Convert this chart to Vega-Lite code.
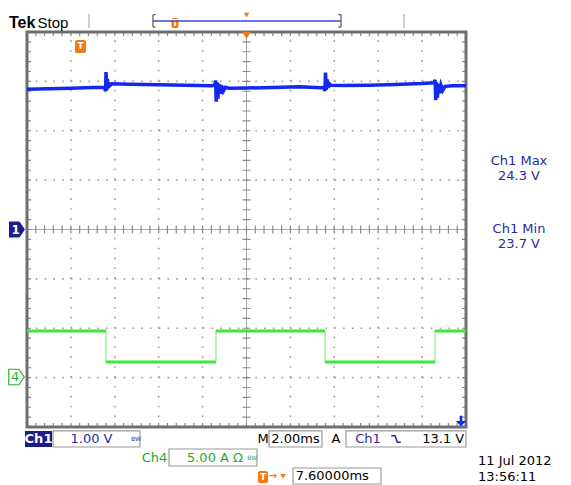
{
  "$schema": "https://vega.github.io/schema/vega-lite/v6.json",
  "width": 439,
  "height": 395,
  "autosize": {"type": "none"},
  "padding": {"left": 27, "top": 32, "right": 105, "bottom": 58},
  "background": "white",
  "config": {"view": {"stroke": null}, "axis": {"disable": true}, "font": "DejaVu Sans"},
  "datasets": {
    "ch1": [
      {"x": 0, "v": 2.84}, {"x": 0.5, "v": 2.85}, {"x": 1.0, "v": 2.86}, {"x": 1.5, "v": 2.875},
      {"x": 1.77, "v": 2.88}, {"x": 1.79, "v": 2.8}, {"x": 1.8, "v": 3.19}, {"x": 1.815, "v": 2.82},
      {"x": 1.83, "v": 3.05}, {"x": 1.85, "v": 2.86}, {"x": 1.87, "v": 2.97}, {"x": 1.89, "v": 2.92},
      {"x": 1.93, "v": 2.95}, {"x": 2.3, "v": 2.94}, {"x": 3.0, "v": 2.93}, {"x": 3.6, "v": 2.92},
      {"x": 4.2, "v": 2.91}, {"x": 4.28, "v": 2.92}, {"x": 4.295, "v": 3.02}, {"x": 4.31, "v": 2.59},
      {"x": 4.33, "v": 2.98}, {"x": 4.35, "v": 2.65}, {"x": 4.37, "v": 2.95}, {"x": 4.4, "v": 2.75},
      {"x": 4.43, "v": 2.92}, {"x": 4.47, "v": 2.8}, {"x": 4.52, "v": 2.88}, {"x": 4.6, "v": 2.86},
      {"x": 5.0, "v": 2.865}, {"x": 5.6, "v": 2.875}, {"x": 6.2, "v": 2.89}, {"x": 6.7, "v": 2.87},
      {"x": 6.77, "v": 2.88}, {"x": 6.785, "v": 2.8}, {"x": 6.8, "v": 3.18}, {"x": 6.815, "v": 2.83},
      {"x": 6.84, "v": 3.04}, {"x": 6.86, "v": 2.87}, {"x": 6.89, "v": 2.95}, {"x": 6.93, "v": 2.92},
      {"x": 7.2, "v": 2.915}, {"x": 7.8, "v": 2.92}, {"x": 8.4, "v": 2.935}, {"x": 9.0, "v": 2.955},
      {"x": 9.26, "v": 2.97}, {"x": 9.28, "v": 2.99}, {"x": 9.295, "v": 3.03}, {"x": 9.31, "v": 2.62},
      {"x": 9.33, "v": 2.98}, {"x": 9.35, "v": 2.67}, {"x": 9.37, "v": 2.95}, {"x": 9.4, "v": 2.76},
      {"x": 9.43, "v": 2.92}, {"x": 9.47, "v": 2.82}, {"x": 9.52, "v": 2.9}, {"x": 9.7, "v": 2.91},
      {"x": 10.0, "v": 2.91}
    ],
    "ch4": [
      {"i": 0, "x": 0, "v": -2.056}, {"i": 1, "x": 1.8, "v": -2.056}, {"i": 2, "x": 1.8, "v": -2.684},
      {"i": 3, "x": 4.305, "v": -2.684}, {"i": 4, "x": 4.305, "v": -2.056}, {"i": 5, "x": 6.79, "v": -2.056},
      {"i": 6, "x": 6.79, "v": -2.684}, {"i": 7, "x": 9.295, "v": -2.684}, {"i": 8, "x": 9.295, "v": -2.056},
      {"i": 9, "x": 10, "v": -2.056}
    ]
  },
  "layer": [
    {
      "data": {"values": [{"x": 1}, {"x": 2}, {"x": 3}, {"x": 4}, {"x": 6}, {"x": 7}, {"x": 8}, {"x": 9}]},
      "mark": {"type": "rule", "color": "#a0a0a0", "strokeWidth": 1.6, "strokeDash": [1.6, 8.275]},
      "encoding": {
        "x": {"field": "x", "type": "quantitative", "scale": {"domain": [0, 10], "nice": false, "zero": false}},
        "y": {"datum": -4, "type": "quantitative", "scale": {"domain": [-4, 4], "nice": false, "zero": false}},
        "y2": {"datum": 4}
      }
    },
    {
      "data": {"values": [{"y": -3}, {"y": -2}, {"y": -1}, {"y": 1}, {"y": 2}, {"y": 3}]},
      "mark": {"type": "rule", "color": "#a0a0a0", "strokeWidth": 1.6, "strokeDash": [1.6, 7.18]},
      "encoding": {
        "x": {"datum": 0, "type": "quantitative", "scale": {"domain": [0, 10], "nice": false, "zero": false}},
        "x2": {"datum": 10},
        "y": {"field": "y", "type": "quantitative", "scale": {"domain": [-4, 4], "nice": false, "zero": false}}
      }
    },
    {
      "data": {"values": [{"x": 0, "x2": 10, "y": 0, "y2": 0}, {"x": 5, "x2": 5, "y": -4, "y2": 4}]},
      "mark": {"type": "rule", "color": "#a8a8a8", "strokeWidth": 1},
      "encoding": {
        "x": {"field": "x", "type": "quantitative", "scale": {"domain": [0, 10], "nice": false, "zero": false}},
        "x2": {"field": "x2"},
        "y": {"field": "y", "type": "quantitative", "scale": {"domain": [-4, 4], "nice": false, "zero": false}},
        "y2": {"field": "y2"}
      }
    },
    {
      "data": {"values": [{"y": 4}, {"y": 0}, {"y": -4}]},
      "mark": {"type": "rule", "color": "#8a8a8a", "strokeWidth": 8, "strokeDash": [1.2, 7.58], "strokeDashOffset": 0.6, "clip": true},
      "encoding": {
        "x": {"datum": 0, "type": "quantitative", "scale": {"domain": [0, 10], "nice": false, "zero": false}},
        "x2": {"datum": 10},
        "y": {"field": "y", "type": "quantitative", "scale": {"domain": [-4, 4], "nice": false, "zero": false}}
      }
    },
    {
      "data": {"values": [{"x": 0}, {"x": 5}, {"x": 10}]},
      "mark": {"type": "rule", "color": "#8a8a8a", "strokeWidth": 8, "strokeDash": [1.2, 8.675], "strokeDashOffset": 0.6, "clip": true},
      "encoding": {
        "x": {"field": "x", "type": "quantitative", "scale": {"domain": [0, 10], "nice": false, "zero": false}},
        "y": {"datum": -4, "type": "quantitative", "scale": {"domain": [-4, 4], "nice": false, "zero": false}},
        "y2": {"datum": 4}
      }
    },
    {
      "data": {"values": [{}]},
      "mark": {"type": "rect", "filled": false, "stroke": "#6e6e6e", "strokeWidth": 3},
      "encoding": {
        "x": {"datum": 0, "type": "quantitative", "scale": {"domain": [0, 10], "nice": false, "zero": false}},
        "x2": {"datum": 10},
        "y": {"datum": -4, "type": "quantitative", "scale": {"domain": [-4, 4], "nice": false, "zero": false}},
        "y2": {"datum": 4}
      }
    },
    {
      "data": {"name": "ch4"},
      "mark": {"type": "line", "color": "#8cec8c", "strokeWidth": 1.2},
      "encoding": {
        "x": {"field": "x", "type": "quantitative", "scale": {"domain": [0, 10], "nice": false, "zero": false}},
        "y": {"field": "v", "type": "quantitative", "scale": {"domain": [-4, 4], "nice": false, "zero": false}},
        "order": {"field": "i", "type": "quantitative"}
      }
    },
    {
      "data": {"name": "ch4"},
      "transform": [
        {"window": [{"op": "lead", "field": "x", "as": "xn"}, {"op": "lead", "field": "v", "as": "vn"}], "sort": [{"field": "i"}]},
        {"filter": "datum.vn == datum.v"}
      ],
      "mark": {"type": "rule", "color": "#3ce63c", "strokeWidth": 3},
      "encoding": {
        "x": {"field": "x", "type": "quantitative", "scale": {"domain": [0, 10], "nice": false, "zero": false}},
        "x2": {"field": "xn"},
        "y": {"field": "v", "type": "quantitative", "scale": {"domain": [-4, 4], "nice": false, "zero": false}}
      }
    },
    {
      "data": {"name": "ch1"},
      "mark": {"type": "line", "color": "#1428f0", "strokeWidth": 3.5},
      "encoding": {
        "x": {"field": "x", "type": "quantitative", "scale": {"domain": [0, 10], "nice": false, "zero": false}},
        "y": {"field": "v", "type": "quantitative", "scale": {"domain": [-4, 4], "nice": false, "zero": false}}
      }
    },
    {
      "data": {"values": [
        {"x": 0.592, "x2": 2.574, "y": -4.08, "y2": -4.405},
        {"x": 5.513, "x2": 6.72, "y": -4.08, "y2": -4.405},
        {"x": 7.267, "x2": 10.0, "y": -4.08, "y2": -4.405},
        {"x": 3.235, "x2": 5.239, "y": -4.446, "y2": -4.79},
        {"x": 6.059, "x2": 8.064, "y": -4.83, "y2": -5.154}
      ]},
      "mark": {"type": "rect", "fill": "white", "stroke": "#9a9a9a", "strokeWidth": 1.2},
      "encoding": {
        "x": {"field": "x", "type": "quantitative", "scale": {"domain": [0, 10], "nice": false, "zero": false}},
        "x2": {"field": "x2"},
        "y": {"field": "y", "type": "quantitative", "scale": {"domain": [-4, 4], "nice": false, "zero": false}},
        "y2": {"field": "y2"}
      }
    },
    {
      "data": {"values": [{"x": -0.046, "x2": 0.569, "y": -4.08, "y2": -4.405}]},
      "mark": {"type": "rect", "fill": "#1c1c8a"},
      "encoding": {
        "x": {"field": "x", "type": "quantitative", "scale": {"domain": [0, 10], "nice": false, "zero": false}},
        "x2": {"field": "x2"},
        "y": {"field": "y", "type": "quantitative", "scale": {"domain": [-4, 4], "nice": false, "zero": false}},
        "y2": {"field": "y2"}
      }
    },
    {
      "data": {"values": [
        {"x": 1.093, "x2": 1.344, "y": 3.838, "y2": 3.575},
        {"x": 3.292, "x2": 3.451, "y": 4.284, "y2": 4.081},
        {"x": 5.262, "x2": 5.49, "y": -4.89, "y2": -5.134}
      ]},
      "mark": {"type": "rect", "fill": "#f07a10", "cornerRadius": 2},
      "encoding": {
        "x": {"field": "x", "type": "quantitative", "scale": {"domain": [0, 10], "nice": false, "zero": false}},
        "x2": {"field": "x2"},
        "y": {"field": "y", "type": "quantitative", "scale": {"domain": [-4, 4], "nice": false, "zero": false}},
        "y2": {"field": "y2"}
      }
    },
    {
      "data": {"values": [{"x": 1.218, "y": 3.707, "t": "T"}, {"x": 3.371, "y": 4.183, "t": "T"}, {"x": 5.376, "y": -5.012, "t": "T"}]},
      "mark": {"type": "text", "color": "white", "fontSize": 9, "fontWeight": "bold", "baseline": "middle", "align": "center"},
      "encoding": {
        "x": {"field": "x", "type": "quantitative", "scale": {"domain": [0, 10], "nice": false, "zero": false}},
        "y": {"field": "y", "type": "quantitative", "scale": {"domain": [-4, 4], "nice": false, "zero": false}},
        "text": {"field": "t"}
      }
    },
    {
      "data": {"values": [{"x": 5, "y": 3.93}]},
      "mark": {"type": "point", "shape": "triangle-down", "filled": true, "color": "#f07a10", "size": 70, "opacity": 1},
      "encoding": {
        "x": {"field": "x", "type": "quantitative", "scale": {"domain": [0, 10], "nice": false, "zero": false}},
        "y": {"field": "y", "type": "quantitative", "scale": {"domain": [-4, 4], "nice": false, "zero": false}}
      }
    },
    {
      "data": {"values": [{"x": 5, "y": 4.344}, {"x": 5.831, "y": -5.0}]},
      "mark": {"type": "point", "shape": "triangle-down", "filled": true, "color": "#f07a10", "size": 30, "opacity": 1},
      "encoding": {
        "x": {"field": "x", "type": "quantitative", "scale": {"domain": [0, 10], "nice": false, "zero": false}},
        "y": {"field": "y", "type": "quantitative", "scale": {"domain": [-4, 4], "nice": false, "zero": false}}
      }
    },
    {
      "data": {"values": [{"x": 5.604, "y": -5.0, "t": "→"}]},
      "mark": {"type": "text", "color": "#f07a10", "fontSize": 10, "fontWeight": "bold", "baseline": "middle", "align": "center"},
      "encoding": {
        "x": {"field": "x", "type": "quantitative", "scale": {"domain": [0, 10], "nice": false, "zero": false}},
        "y": {"field": "y", "type": "quantitative", "scale": {"domain": [-4, 4], "nice": false, "zero": false}},
        "text": {"field": "t"}
      }
    },
    {
      "data": {"values": [{"x": 2.87, "x2": 7.153, "y": 4.223, "y2": 4.223}]},
      "mark": {"type": "rule", "color": "#3a4ad0", "strokeWidth": 1.5},
      "encoding": {
        "x": {"field": "x", "type": "quantitative", "scale": {"domain": [0, 10], "nice": false, "zero": false}},
        "x2": {"field": "x2"},
        "y": {"field": "y", "type": "quantitative", "scale": {"domain": [-4, 4], "nice": false, "zero": false}},
        "y2": {"field": "y2"}
      }
    },
    {
      "data": {"values": [
        {"x": 2.87, "x2": 2.87, "y": 4.1, "y2": 4.35},
        {"x": 7.153, "x2": 7.153, "y": 4.1, "y2": 4.35},
        {"x": 2.87, "x2": 2.93, "y": 4.35, "y2": 4.35},
        {"x": 7.093, "x2": 7.153, "y": 4.35, "y2": 4.35},
        {"x": 2.87, "x2": 2.93, "y": 4.1, "y2": 4.1},
        {"x": 7.093, "x2": 7.153, "y": 4.1, "y2": 4.1}
      ]},
      "mark": {"type": "rule", "color": "#555555", "strokeWidth": 1.2},
      "encoding": {
        "x": {"field": "x", "type": "quantitative", "scale": {"domain": [0, 10], "nice": false, "zero": false}},
        "x2": {"field": "x2"},
        "y": {"field": "y", "type": "quantitative", "scale": {"domain": [-4, 4], "nice": false, "zero": false}},
        "y2": {"field": "y2"}
      }
    },
    {
      "data": {"values": [
        {"x": 1.412, "x2": 1.412, "y": 4.081, "y2": 4.365},
        {"x": 8.588, "x2": 8.588, "y": 4.081, "y2": 4.365}
      ]},
      "mark": {"type": "rule", "color": "#b0b0b0", "strokeWidth": 1.2},
      "encoding": {
        "x": {"field": "x", "type": "quantitative", "scale": {"domain": [0, 10], "nice": false, "zero": false}},
        "x2": {"field": "x2"},
        "y": {"field": "y", "type": "quantitative", "scale": {"domain": [-4, 4], "nice": false, "zero": false}},
        "y2": {"field": "y2"}
      }
    },
    {
      "data": {"values": [{"x": -0.228, "y": 0}]},
      "mark": {"type": "point", "shape": "M-1,-1 L0.3,-1 L1,0 L0.3,1 L-1,1 Z", "filled": true, "color": "#1c1c8a", "size": 256, "opacity": 1},
      "encoding": {
        "x": {"field": "x", "type": "quantitative", "scale": {"domain": [0, 10], "nice": false, "zero": false}},
        "y": {"field": "y", "type": "quantitative", "scale": {"domain": [-4, 4], "nice": false, "zero": false}}
      }
    },
    {
      "data": {"values": [{"x": -0.239, "y": -2.987}]},
      "mark": {"type": "point", "shape": "M-1,-1 L0.3,-1 L1,0 L0.3,1 L-1,1 Z", "filled": true, "fill": "white", "stroke": "#2bb52b", "strokeWidth": 1.2, "size": 240, "opacity": 1},
      "encoding": {
        "x": {"field": "x", "type": "quantitative", "scale": {"domain": [0, 10], "nice": false, "zero": false}},
        "y": {"field": "y", "type": "quantitative", "scale": {"domain": [-4, 4], "nice": false, "zero": false}}
      }
    },
    {
      "data": {"values": [{"x": -0.26, "y": 0, "t": "1"}]},
      "mark": {"type": "text", "color": "white", "fontSize": 12, "fontWeight": "bold", "baseline": "middle", "align": "center"},
      "encoding": {
        "x": {"field": "x", "type": "quantitative", "scale": {"domain": [0, 10], "nice": false, "zero": false}},
        "y": {"field": "y", "type": "quantitative", "scale": {"domain": [-4, 4], "nice": false, "zero": false}},
        "text": {"field": "t"}
      }
    },
    {
      "data": {"values": [{"x": -0.27, "y": -2.987, "t": "4"}]},
      "mark": {"type": "text", "color": "#2bb52b", "fontSize": 13, "baseline": "middle", "align": "center"},
      "encoding": {
        "x": {"field": "x", "type": "quantitative", "scale": {"domain": [0, 10], "nice": false, "zero": false}},
        "y": {"field": "y", "type": "quantitative", "scale": {"domain": [-4, 4], "nice": false, "zero": false}},
        "text": {"field": "t"}
      }
    },
    {
      "data": {"values": [{"x": 9.886, "y": -3.88}]},
      "mark": {"type": "point", "shape": "M-0.25,-1 L0.25,-1 L0.25,0 L1,0 L0,1 L-1,0 L-0.25,0 Z", "filled": true, "color": "#1428f0", "size": 110, "opacity": 1},
      "encoding": {
        "x": {"field": "x", "type": "quantitative", "scale": {"domain": [0, 10], "nice": false, "zero": false}},
        "y": {"field": "y", "type": "quantitative", "scale": {"domain": [-4, 4], "nice": false, "zero": false}}
      }
    },
    {
      "data": {"values": [{"x": 8.405, "y": -4.243}]},
      "mark": {"type": "point", "shape": "M-1,-0.7 L-0.2,-0.7 L0.3,0.7 L1,0.7", "filled": false, "stroke": "#2a2a9c", "strokeWidth": 1.6, "size": 90, "opacity": 1},
      "encoding": {
        "x": {"field": "x", "type": "quantitative", "scale": {"domain": [0, 10], "nice": false, "zero": false}},
        "y": {"field": "y", "type": "quantitative", "scale": {"domain": [-4, 4], "nice": false, "zero": false}}
      }
    },
    {
      "data": {"values": [{"x": -0.41, "y": 4.091, "t": "Tek"}]},
      "mark": {"type": "text", "color": "black", "font": "Liberation Sans", "fontSize": 16, "fontWeight": "bold", "baseline": "alphabetic", "align": "left"},
      "encoding": {
        "x": {"field": "x", "type": "quantitative", "scale": {"domain": [0, 10], "nice": false, "zero": false}},
        "y": {"field": "y", "type": "quantitative", "scale": {"domain": [-4, 4], "nice": false, "zero": false}},
        "text": {"field": "t"}
      }
    },
    {
      "data": {"values": [{"x": 0.24, "y": 4.091, "t": "Stop"}]},
      "mark": {"type": "text", "color": "black", "font": "Liberation Sans", "fontSize": 15, "baseline": "alphabetic", "align": "left"},
      "encoding": {
        "x": {"field": "x", "type": "quantitative", "scale": {"domain": [0, 10], "nice": false, "zero": false}},
        "y": {"field": "y", "type": "quantitative", "scale": {"domain": [-4, 4], "nice": false, "zero": false}},
        "text": {"field": "t"}
      }
    },
    {
      "data": {"values": [
        {"x": 11.207, "y": 1.393, "t": "Ch1 Max"},
        {"x": 11.207, "y": 1.09, "t": "24.3 V"},
        {"x": 11.207, "y": 0.01, "t": "Ch1 Min"},
        {"x": 11.207, "y": -0.294, "t": "23.7 V"},
        {"x": 1.469, "y": -4.243, "t": "1.00 V"},
        {"x": 7.768, "y": -4.243, "t": "Ch1"}
      ]},
      "mark": {"type": "text", "color": "#2a2a9c", "fontSize": 13, "baseline": "middle", "align": "center"},
      "encoding": {
        "x": {"field": "x", "type": "quantitative", "scale": {"domain": [0, 10], "nice": false, "zero": false}},
        "y": {"field": "y", "type": "quantitative", "scale": {"domain": [-4, 4], "nice": false, "zero": false}},
        "text": {"field": "t"}
      }
    },
    {
      "data": {"values": [{"x": 0.262, "y": -4.243, "t": "Ch1"}]},
      "mark": {"type": "text", "color": "white", "fontSize": 13, "fontWeight": "bold", "baseline": "middle", "align": "center"},
      "encoding": {
        "x": {"field": "x", "type": "quantitative", "scale": {"domain": [0, 10], "nice": false, "zero": false}},
        "y": {"field": "y", "type": "quantitative", "scale": {"domain": [-4, 4], "nice": false, "zero": false}},
        "text": {"field": "t"}
      }
    },
    {
      "data": {"values": [
        {"x": 5.376, "y": -4.243, "t": "M"},
        {"x": 6.116, "y": -4.243, "t": "2.00ms"},
        {"x": 7.039, "y": -4.243, "t": "A"}
      ]},
      "mark": {"type": "text", "color": "black", "fontSize": 13, "baseline": "middle", "align": "center"},
      "encoding": {
        "x": {"field": "x", "type": "quantitative", "scale": {"domain": [0, 10], "nice": false, "zero": false}},
        "y": {"field": "y", "type": "quantitative", "scale": {"domain": [-4, 4], "nice": false, "zero": false}},
        "text": {"field": "t"}
      }
    },
    {
      "data": {"values": [{"x": 9.96, "y": -4.243, "t": "13.1 V"}]},
      "mark": {"type": "text", "color": "black", "fontSize": 13, "baseline": "middle", "align": "right"},
      "encoding": {
        "x": {"field": "x", "type": "quantitative", "scale": {"domain": [0, 10], "nice": false, "zero": false}},
        "y": {"field": "y", "type": "quantitative", "scale": {"domain": [-4, 4], "nice": false, "zero": false}},
        "text": {"field": "t"}
      }
    },
    {
      "data": {"values": [
        {"x": 6.12, "y": -4.992, "t": "7.60000ms"},
        {"x": 10.273, "y": -4.68, "t": "11 Jul   2012"},
        {"x": 10.273, "y": -5.013, "t": "13:56:11"}
      ]},
      "mark": {"type": "text", "color": "black", "fontSize": 13, "baseline": "middle", "align": "left"},
      "encoding": {
        "x": {"field": "x", "type": "quantitative", "scale": {"domain": [0, 10], "nice": false, "zero": false}},
        "y": {"field": "y", "type": "quantitative", "scale": {"domain": [-4, 4], "nice": false, "zero": false}},
        "text": {"field": "t"}
      }
    },
    {
      "data": {"values": [
        {"x": 2.904, "y": -4.628, "t": "Ch4"},
        {"x": 4.282, "y": -4.628, "t": "5.00 A Ω"}
      ]},
      "mark": {"type": "text", "color": "#2aa82a", "fontSize": 13, "baseline": "middle", "align": "center"},
      "encoding": {
        "x": {"field": "x", "type": "quantitative", "scale": {"domain": [0, 10], "nice": false, "zero": false}},
        "y": {"field": "y", "type": "quantitative", "scale": {"domain": [-4, 4], "nice": false, "zero": false}},
        "text": {"field": "t"}
      }
    },
    {
      "data": {"values": [{"x": 5.13, "y": -4.628, "t": "BW"}]},
      "mark": {"type": "text", "color": "#2aa82a", "fontSize": 6, "baseline": "middle", "align": "center"},
      "encoding": {
        "x": {"field": "x", "type": "quantitative", "scale": {"domain": [0, 10], "nice": false, "zero": false}},
        "y": {"field": "y", "type": "quantitative", "scale": {"domain": [-4, 4], "nice": false, "zero": false}},
        "text": {"field": "t"}
      }
    },
    {
      "data": {"values": [{"x": 2.483, "y": -4.243, "t": "BW"}]},
      "mark": {"type": "text", "color": "#2a2a9c", "fontSize": 6, "baseline": "middle", "align": "center"},
      "encoding": {
        "x": {"field": "x", "type": "quantitative", "scale": {"domain": [0, 10], "nice": false, "zero": false}},
        "y": {"field": "y", "type": "quantitative", "scale": {"domain": [-4, 4], "nice": false, "zero": false}},
        "text": {"field": "t"}
      }
    }
  ]
}
